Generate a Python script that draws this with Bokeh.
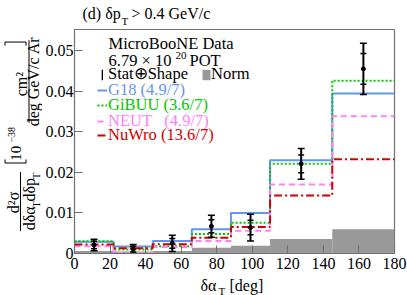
import math
from bokeh.plotting import figure
from bokeh.models import Range1d, FixedTicker, Legend, LegendItem
from bokeh.layouts import column, row
from bokeh.core.properties import value
from bokeh.embed import file_html
from bokeh.resources import INLINE

# ---------------- data ----------------
bin_edges = [0, 22, 44, 66, 88, 110, 145, 180]
bin_centers = [11, 33, 55, 77, 99, 127.5, 162.5]
data_vals = [0.0021, 0.0011, 0.0025, 0.0067, 0.0064, 0.0221, 0.0455]
err_total = [0.0014, 0.0011, 0.0020, 0.0027, 0.0033, 0.0038, 0.0063]
err_stat = [0.0009, 0.0007, 0.0012, 0.0016, 0.0018, 0.0022, 0.0038]
g18_vals = [0.0029, 0.0017, 0.0031, 0.0060, 0.0100, 0.0230, 0.0394]
gibuu_vals = [0.0030, 0.0010, 0.0018, 0.0048, 0.0076, 0.0221, 0.0426]
neut_vals = [0.0018, 0.0001, 0.0016, 0.0031, 0.0056, 0.0170, 0.0338]
nuwro_vals = [0.0022, 0.0013, 0.0023, 0.0039, 0.0065, 0.0143, 0.0232]
norm_vals = [0.0006, 0.0005, 0.0006, 0.0014, 0.0019, 0.0036, 0.0060]
x_ticks = [0, 20, 40, 60, 80, 100, 120, 140, 160, 180]
y_ticks = [0.0, 0.01, 0.02, 0.03, 0.04, 0.05]
y_tick_labels = ["0", "0.01", "0.02", "0.03", "0.04", "0.05"]

FONT = "Liberation Serif"
C_G18 = "#6495ED"
C_GIBUU = "#00C800"
C_NEUT = "#FF80FF"
C_NUWRO = "#D00000"
C_NORM = "#999999"
C_FRAME = "#707070"

TOTAL_W = 407
TITLE_H = 26
MAIN_H = 250
XLAB_H = 19
YLAB_W = 42
MAIN_W = TOTAL_W - YLAB_W
LEG_FS = "16.5px"


def steps(edges, vals):
    xs, ys = [], []
    for i, v in enumerate(vals):
        xs += [edges[i], edges[i + 1]]
        ys += [v, v]
    return xs, ys


def blank_fig(w, h):
    f = figure(width=w, height=h, x_range=Range1d(0, w), y_range=Range1d(0, h),
               output_backend="svg", toolbar_location=None,
               x_axis_location=None, y_axis_location=None, min_border=0)
    f.outline_line_color = None
    f.grid.visible = False
    f.background_fill_color = "white"
    f.border_fill_color = "white"
    return f


def txt(f, s, x, y, size="16px", color="black", align="left", angle=0.0, baseline="middle", **kw):
    f.text(x=[x], y=[y], text=[s], text_font=value(FONT), text_font_size=size,
           text_color=color, text_align=align, text_baseline=baseline, angle=angle, **kw)


# ---------------- main plot ----------------
p = figure(width=MAIN_W, height=MAIN_H,
           x_range=Range1d(0, 180), y_range=Range1d(0, 0.0552),
           output_backend="svg", toolbar_location=None,
           min_border_left=31, min_border_right=13, min_border_top=3, min_border_bottom=23)
p.title.visible = False
p.xgrid.visible = False
p.ygrid.visible = False
p.outline_line_color = C_FRAME
p.outline_line_width = 1.2
p.background_fill_color = "white"
p.border_fill_color = "white"

p.xaxis.ticker = FixedTicker(ticks=x_ticks)
p.yaxis.ticker = FixedTicker(ticks=y_ticks)
p.yaxis.major_label_overrides = {t: l for t, l in zip(y_ticks, y_tick_labels)}
for ax in (p.xaxis, p.yaxis):
    ax.major_tick_in = 8
    ax.major_tick_out = 0
    ax.minor_tick_line_color = None
    ax.axis_line_color = C_FRAME
    ax.major_tick_line_color = C_FRAME
    ax.major_label_text_font = FONT
    ax.major_label_text_font_size = "16px"
    ax.major_label_text_color = "black"
p.xaxis.major_label_standoff = 4
p.yaxis.major_label_standoff = 1

# Norm uncertainty band
r_norm = p.quad(left=bin_edges[:-1], right=bin_edges[1:], bottom=0, top=norm_vals,
                fill_color=C_NORM, line_color=None)

# model predictions
models = [
    ("G18 (4.9/7)", g18_vals, C_G18, "solid"),
    ("GiBUU (3.6/7)", gibuu_vals, C_GIBUU, "2 2"),
    ("NEUT\u00a0\u00a0 (4.9/7)", neut_vals, C_NEUT, "6 4"),
    ("NuWro (13.6/7)", nuwro_vals, C_NUWRO, "8 3 2 3"),
]
model_renderers = []
for name, vals, col, dash in models:
    xs, ys = steps(bin_edges, vals)
    model_renderers.append(p.line(xs, ys, line_color=col, line_width=2, line_dash=dash))

# data with error bars
err_h = [2 * e for e in err_total]
r_bar = p.rect(x=bin_centers, y=data_vals, width=2, width_units="screen", height=err_h,
               fill_color="black", line_color=None)
cap_x = bin_centers + bin_centers
p.scatter(x=cap_x, y=[d + e for d, e in zip(data_vals, err_total)] + [d - e for d, e in zip(data_vals, err_total)],
          marker="dash", size=7, line_width=1.5, line_color="black")
p.scatter(x=cap_x, y=[d + e for d, e in zip(data_vals, err_stat)] + [d - e for d, e in zip(data_vals, err_stat)],
          marker="dash", size=6, line_width=1.5, line_color="black")
r_pts = p.scatter(x=bin_centers, y=data_vals, marker="circle", size=4, fill_color="black", line_color="black")


def legend(label, renderers, x, y, color, gw=10, gh=12, standoff=1):
    leg = Legend(items=[LegendItem(label=label, renderers=renderers)], location=(x, y),
                 label_text_color=color, label_text_font=FONT, label_text_font_size=LEG_FS,
                 glyph_width=gw, glyph_height=gh, label_standoff=standoff, label_height=12,
                 padding=0, margin=0, spacing=0, border_line_color=None, background_fill_alpha=0)
    p.add_layout(leg)


# header text of the legend block, anchored to the top-left corner of the frame
x0 = p.x_range.start
y_top = p.y_range.end
txt(p, "MicroBooNE Data", x0, y_top, size=LEG_FS, x_offset=34, y_offset=14)
txt(p, "6.79 \u00d7 10", x0, y_top, size=LEG_FS, x_offset=34, y_offset=31)
txt(p, "20", x0, y_top, size="11px", x_offset=101, y_offset=26)
txt(p, "POT", x0, y_top, size=LEG_FS, x_offset=115, y_offset=31)

legend("Stat\u2295Shape", [r_bar, r_pts], 27, 169, "black", gw=2, gh=13, standoff=5)
legend("Norm", [r_norm], 127, 169, "black", gw=10, gh=13, standoff=0)
for (name, vals, col, dash), r, ly in zip(models, model_renderers, [153, 138, 122, 108]):
    legend(name, [r], 23, ly, col)

# ---------------- title strip ----------------
t = blank_fig(TOTAL_W, TITLE_H)
txt(t, "(d) \u03b4p", 82, 13.5)
txt(t, "T", 121, 6, size="11px")
txt(t, "> 0.4 GeV/c", 131, 13.5)

# ---------------- y-axis title strip (rotated) ----------------
yl = blank_fig(YLAB_W, MAIN_H)
A = math.pi / 2
txt(yl, "d\u00b2\u03c3", 13, 57, align="center", angle=A)
yl.segment(x0=[20], y0=[25], x1=[20], y1=[91], line_color="black", line_width=1)
txt(yl, "d\u03b4\u03b1", 29, 26, angle=A)
txt(yl, "T", 35, 51, size="11px", angle=A)
txt(yl, "d\u03b4p", 29, 58, angle=A)
txt(yl, "T", 35.5, 83, size="11px", angle=A)
# "[" bracket
yl.multi_line(xs=[[4.5, 4.5, 25.5, 25.5]], ys=[[105, 101, 101, 105]], line_color="black", line_width=1)
txt(yl, "10", 15, 112, size="15px", align="center", angle=A)
txt(yl, "\u221238", 11, 132.5, size="10px", align="center", angle=A)
txt(yl, "cm\u00b2", 21, 189, align="center", angle=A)
yl.segment(x0=[28.5], y0=[146], x1=[28.5], y1=[238], line_color="black", line_width=1)
txt(yl, "deg GeV/c Ar", 33, 192, align="center", angle=A)
# "]" bracket
yl.multi_line(xs=[[4.5, 4.5, 25.5, 25.5]], ys=[[232, 236, 236, 232]], line_color="black", line_width=1)

# ---------------- x-axis title strip ----------------
xl = blank_fig(TOTAL_W, XLAB_H)
txt(xl, "\u03b4\u03b1", 200, 10.5)
txt(xl, "T", 218, 5, size="11px")
txt(xl, "[deg]", 229, 10.5)

layout = column(t, row(yl, p, spacing=0), xl, spacing=0)
open("out.html", "w").write(file_html(layout, INLINE))
